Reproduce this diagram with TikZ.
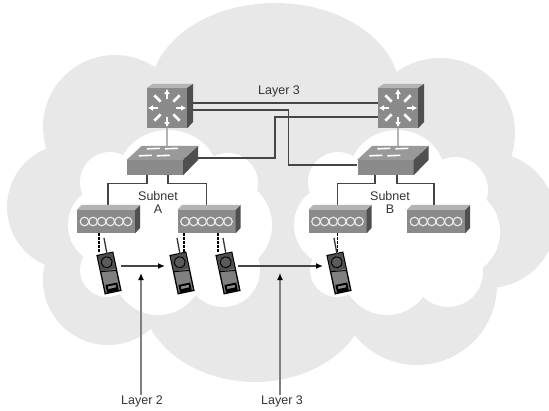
\documentclass[tikz,border=0pt]{standalone}
\usepackage{fontspec}
\setmainfont{Liberation Sans}
\usetikzlibrary{arrows.meta,backgrounds}

\definecolor{cloudgrey}{HTML}{E8E8E8}
\definecolor{frontgrey}{HTML}{8A8A8A}
\definecolor{topgrey}{HTML}{B4B4B4}
\definecolor{sidegrey}{HTML}{4F4F4F}
\definecolor{linegrey}{HTML}{454545}
\definecolor{textgrey}{HTML}{333333}

\tikzstyle{router} = [fill=frontgrey,inner sep=0pt,minimum width=40pt,minimum height=40pt]
\tikzstyle{switchbox} = [fill=frontgrey,inner sep=0pt,minimum width=56pt,minimum height=15pt]
\tikzstyle{hub} = [fill=frontgrey,inner sep=0pt,minimum width=58pt,minimum height=23pt]
\tikzstyle{phone} = [fill=gray,draw=black,line width=1.3pt,inner sep=0pt,minimum width=16pt,minimum height=39pt,rotate=12]
\tikzstyle{label} = [text=textgrey,inner sep=0pt,font=\fontsize{12.5}{14}\selectfont]
\tikzstyle{link} = [draw=linegrey,line width=1.4pt]
\tikzstyle{uplink} = [draw=topgrey,line width=2.2pt]
\tikzstyle{radio} = [draw=black,line width=1.2pt,dash pattern=on 2.5pt off 1.5pt]
\tikzstyle{move} = [draw=linegrey,line width=1.4pt,-{Latex[length=7pt,width=6pt,black]}]
\tikzstyle{pointer} = [draw=gray,line width=2pt,-{Latex[length=7pt,width=6pt,black]}]

% router with a 3d top and side
\newcommand{\routerdev}[3]{
	\node[router] (#1) at (#2,#3) {};
	\fill[topgrey] (#1.north west) -- ++(6,-4) -- ++(40,0) -- (#1.north east) -- cycle;
	\fill[sidegrey] (#1.north east) -- ++(6,-4) -- ++(0,38) -- (#1.south east) -- cycle;
	\foreach \a in {45,135,225,315}
		\draw[white,line width=2.6pt] ([shift={(\a:9)}]#1.center) -- ([shift={(\a:18)}]#1.center);
	\foreach \a in {0,90,180,270}
		\draw[white,line width=1.6pt,-{Latex[length=5pt,width=6pt]}] ([shift={(\a:9)}]#1.center) -- ([shift={(\a:19)}]#1.center);
}
% switch
\newcommand{\switchdev}[3]{
	\node[switchbox] (#1) at (#2,#3) {};
	\fill[topgrey!85!black] (#1.north west) -- ++(15,-14) -- ++(56,0) -- (#1.north east) -- cycle;
	\fill[sidegrey] (#1.north east) -- ++(15,-14) -- ++(0,14) -- (#1.south east) -- cycle;
	\begin{scope}[shift={(#1.north west)},white,line width=1.6pt]
		\draw (20,-11) -- (33,-11.5);
		\draw (38,-11) -- (51,-11.5);
		\draw (12,-4) -- (25,-4.5);
		\draw (30,-4) -- (43,-4.5);
	\end{scope}
}
% hub with six coils
\newcommand{\hubdev}[3]{
	\node[hub] (#1) at (#2,#3) {};
	\fill[topgrey] (#1.north west) -- ++(5,-5) -- ++(58,0) -- (#1.north east) -- cycle;
	\fill[sidegrey] (#1.north east) -- ++(5,-5) -- ++(0,23) -- (#1.south east) -- cycle;
	\foreach \d in {-21.5,-12.9,-4.3,4.3,12.9,21.5}
		\draw[white!85!frontgrey,line width=1.1pt] ([xshift=\d pt]#1.center) circle[radius=4.3];
}
% handset
\newcommand{\phonedev}[3]{
	\node[phone] (#1) at (#2,#3) {};
	\draw[black!80,line width=1.3pt] ([shift={(-5,-35)}]#1.center) -- ([shift={(-2,-19)}]#1.center);
	\begin{scope}[shift={(#2,#3)},rotate=12]
		\fill[sidegrey] (-7.5,-19) rectangle (7.5,-3);
		\fill[sidegrey!80!frontgrey] (0,-11) circle[radius=5.5];
		\draw[black,line width=.9pt] (0,-11) circle[radius=5.5];
		\draw[black,line width=.9pt] (-8,-3) -- (8,-1);
		\fill[black] (-6,11) rectangle (6,19);
		\fill[frontgrey] (-4,13) rectangle (4,15.5);
	\end{scope}
}

\begin{document}
\begin{tikzpicture}[x=1pt,y=-1pt]
	\useasboundingbox (0,0) rectangle (549,410);
	\clip (0,0) rectangle (549,410);

	\routerdev{r1}{167}{108}
	\routerdev{r2}{398}{108}
	\switchdev{sw1}{155}{167.5}
	\switchdev{sw2}{385.5}{167.5}
	\hubdev{hub1}{106}{221.5}
	\hubdev{hub2}{206.5}{221.5}
	\hubdev{hub3}{337.5}{221.5}
	\hubdev{hub4}{436}{221.5}
	\phonedev{p1}{109}{273}
	\phonedev{p2}{182}{273}
	\phonedev{p3}{228}{273}
	\phonedev{p4}{339}{273}

	\node[label] (top3) at (279,91) {Layer 3};
	\node[label] (subA) at (158,196) {Subnet};
	\node[label] (a) at (158,209) {A};
	\node[label] (subB) at (390,196) {Subnet};
	\node[label] (b) at (390,209) {B};
	\node[label] (low2) at (142,401) {Layer 2};
	\node[label] (low3) at (282,401) {Layer 3};

	\coordinate (tip2) at (141,273);
	\coordinate (tip3) at (280,273);

	\begin{scope}[on background layer]
		% grey cloud
		\fill[cloudgrey] (275,93) ellipse[x radius=125,y radius=90];
		\fill[cloudgrey] (255,290) ellipse[x radius=115,y radius=92];
		\fill[cloudgrey] (150,120) rectangle (400,300);
		\foreach \x/\y/\r in {115/127/72,70/207/63,108/280/65,417/285/80,488/220/68,440/133/75,170/220/100,400/220/100}
			\fill[cloudgrey] (\x,\y) circle[radius=\r];

		% white clouds
		\fill[white] (168,175) ellipse[x radius=50,y radius=45];
		\fill[white] (397,175) ellipse[x radius=48,y radius=45];
		\foreach \x/\y/\r in {110/182/30,108/225/40,107/270/27,158/270/45,223/270/37,225/225/47,228/183/30,170/225/60,
			338/182/30,335/225/41,337/270/27,387/270/45,448/272/35,455/190/33,455/232/45,397/225/60}
			\fill[white] (\x,\y) circle[radius=\r];

		% layer 3 links
		\draw[link] ([yshift=5pt]r1.east) -- ([yshift=5pt]r2.west);
		\draw[link] ([yshift=-2pt]r1.east) -- ++(101,0) |- ([yshift=2.5pt]sw2.west);
		\draw[link] ([yshift=-9pt]r2.west) -- ++(-103,0) |- ([yshift=9.5pt]sw1.east);

		\draw[uplink] (r1.south) -- (r1.south |- sw1.north);
		\draw[uplink] (r2.south) -- (r2.south |- sw2.north);

		% switches to hubs
		\draw[link] ([xshift=-8pt]sw1.south) -- ++(0,8) -| ([xshift=2pt]hub1.north);
		\draw[link] ([xshift=13pt]sw1.south) -- ++(0,8) -| (hub2.north);
		\draw[link] ([xshift=-10.5pt]sw2.south) -- ++(0,8) -| (hub3.north);
		\draw[link] ([xshift=11.5pt]sw2.south) -- ++(0,8) -| ([xshift=-2pt]hub4.north);

		% radio
		\draw[radio] ([xshift=-7pt]hub1.south) -- ++(0,20);
		\draw[radio] ([xshift=-22.5pt]hub2.south) -- ++(0,20);
		\draw[radio] ([xshift=11.5pt]hub2.south) -- ++(0,20);
		\draw[radio] (hub3.south) -- ++(0,20);
	\end{scope}

	\draw[move] ([shift={(12,-7)}]p1.center) -- ([shift={(-17,-7)}]p2.center);
	\draw[move] ([shift={(10,-7)}]p3.center) -- ([shift={(-16,-7)}]p4.center);
	\draw[pointer] (low2.north -| tip2) -- (tip2);
	\draw[pointer] (low3.north -| tip3) -- (tip3);
\end{tikzpicture}
\end{document}
